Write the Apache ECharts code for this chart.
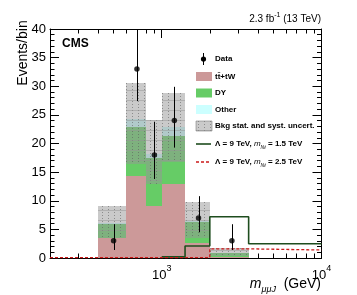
<!DOCTYPE html>
<html><head><meta charset="utf-8">
<script src="https://cdn.jsdelivr.net/npm/echarts@6/dist/echarts.min.js"></script>
<style>html,body{margin:0;padding:0;background:#fff}#c{width:357px;height:295px}</style>
</head><body><div id="c"></div>
<script>
// ---- data ----
const binEdges = [400, 600, 800, 1000, 1400, 2000, 3500];
const ttbar = [3.45, 14.3, 9.0, 12.9, 2.7, 0.1];
const dy = [2.55, 8.5, 8.4, 8.4, 3.6, 0.8];
const other = [0.2, 1.4, 0.7, 1.5, 0.2, 0.05];
const uncLow = [3.5, 16.5, 12.9, 16.8, 3.5, 0.3];
const uncHigh = [9.1, 30.5, 24.1, 28.8, 9.8, 1.8];
const dataX = [500, 700, 900, 1200, 1700, 2750];
const dataY = [3, 33, 18, 24, 7, 3];
const dataLow = [1.4, 27.4, 13.8, 19.3, 4.5, 1.4];
const dataHigh = [5.9, 40, 23.8, 29.9, 10.8, 5.9];
const sig15Edges = [1000, 1400, 2000, 3500, 10000];
const sig15 = [0.2, 2.1, 7.2, 2.5];
const sig25Edges = [200, 2000, 3500, 10000];
const sig25 = [0.08, 1.6, 1.4];
const xMajorTicks = [1000, 10000];
const xMinorTicks = [300, 400, 500, 600, 700, 800, 900, 2000, 3000, 4000, 5000, 6000, 7000, 8000, 9000];
const xLabels = {1000: '3', 10000: '4'};

const FONT = '"Liberation Sans", Arial, Helvetica, sans-serif';
const cTT = '#cc9999', cDY = '#66cc66', cOT = '#ccffff';
const cBand = 'rgba(150,150,150,0.5)';
const cSig15 = '#1e4d1e', cSig25 = '#cc1a1a';

function stackData(lowerArrs, vals) {
  return vals.map((v, i) => {
    let base = 0;
    lowerArrs.forEach(a => base += a[i]);
    return [binEdges[i], binEdges[i + 1], base, base + v];
  });
}
const ttData = stackData([], ttbar);
const dyData = stackData([ttbar], dy);
const otData = stackData([ttbar, dy], other);
const bandData = uncLow.map((l, i) => [binEdges[i], binEdges[i + 1], l, uncHigh[i]]);
const errData = dataX.map((x, i) => [x, dataLow[i], dataHigh[i]]);
function stepData(edges, vals) {
  const d = vals.map((v, i) => [edges[i], v]);
  d.push([edges[edges.length - 1], vals[vals.length - 1]]);
  return d;
}
function rectFrom(api) {
  const p0 = api.coord([api.value(0), api.value(2)]);
  const p1 = api.coord([api.value(1), api.value(3)]);
  const x0 = Math.round(p0[0]), x1 = Math.round(p1[0]);
  const yb = Math.round(p0[1]), yt = Math.round(p1[1]);
  return {x: x0, y: yt, width: x1 - x0, height: yb - yt};
}
function boxSeries(name, data, color) {
  return {
    name, type: 'custom', xAxisIndex: 0, yAxisIndex: 0, clip: true,
    encode: {x: [0, 1], y: [2, 3]}, data,
    renderItem: (params, api) => ({type: 'rect', shape: rectFrom(api), style: {fill: color}})
  };
}
function hatchGroup(x0, y0, w, h) {
  const ch = [{type: 'rect', shape: {x: x0, y: y0, width: w, height: h}, style: {fill: cBand}}];
  for (let x = Math.ceil(x0 / 6) * 6 + 0.5; x < x0 + w; x += 6) {
    ch.push({type: 'line', shape: {x1: x, y1: y0, x2: x, y2: y0 + h},
             style: {stroke: 'rgba(90,90,90,0.55)', lineWidth: 1, lineDash: [1, 2]}});
  }
  for (let y = Math.ceil(y0 / 10) * 10 + 0.5; y < y0 + h; y += 10) {
    ch.push({type: 'line', shape: {x1: x0, y1: y, x2: x0 + w, y2: y},
             style: {stroke: 'rgba(150,150,150,0.5)', lineWidth: 1}});
  }
  return ch;
}

const chart = echarts.init(document.getElementById('c'), null, {renderer: 'canvas'});

function xAxisDef(pos, ticks, len, showLine, showLabel) {
  return {
    type: 'log', logBase: 10, min: 200, max: 10000, position: pos,
    axisLine: {show: showLine, onZero: false, lineStyle: {color: '#000', width: 1}},
    axisTick: {show: true, inside: true, length: len, customValues: ticks, lineStyle: {color: '#000'}},
    axisLabel: {show: showLabel, customValues: showLabel ? xMajorTicks : undefined, margin: 6,
      formatter: v => '{n|10}{s|' + (xLabels[Math.round(v)] || '') + '}',
      rich: {n: {fontFamily: FONT, fontSize: 13, color: '#000', lineHeight: 18, verticalAlign: 'bottom'},
             s: {fontFamily: FONT, fontSize: 9, color: '#000', lineHeight: 18, verticalAlign: 'top'}}},
    splitLine: {show: false}, minorTick: {show: false}
  };
}
function yAxisDef(pos, showLabel) {
  return {
    type: 'value', min: 0, max: 40, interval: 5, position: pos,
    axisLine: {show: true, onZero: false, lineStyle: {color: '#000', width: 1}},
    axisTick: {show: true, inside: true, length: 9, lineStyle: {color: '#000'}},
    minorTick: {show: true, splitNumber: 5, length: 4.5, lineStyle: {color: '#000'}},
    axisLabel: {show: showLabel, fontFamily: FONT, fontSize: 13, color: '#000', margin: 4},
    splitLine: {show: false}
  };
}

const option = {
  animation: false,
  backgroundColor: '#fff',
  grid: {left: 50, top: 29, right: 35.5, bottom: 37, containLabel: false},
  xAxis: [
    xAxisDef('bottom', xMajorTicks, 9, true, true),
    xAxisDef('bottom', xMinorTicks, 4.5, false, false),
    xAxisDef('top', xMajorTicks, 9, true, false),
    xAxisDef('top', xMinorTicks, 4.5, false, false)
  ],
  yAxis: [yAxisDef('left', true), yAxisDef('right', false)],
  series: [
    boxSeries('tt+tW', ttData, cTT),
    boxSeries('DY', dyData, cDY),
    boxSeries('Other', otData, cOT),
    {
      name: 'Bkg stat. and syst. uncert.', type: 'custom', xAxisIndex: 0, yAxisIndex: 0, clip: true,
      encode: {x: [0, 1], y: [2, 3]}, data: bandData,
      renderItem: (params, api) => {
        const r = rectFrom(api);
        return {type: 'group', children: hatchGroup(r.x, r.y, r.width, r.height)};
      }
    },
    {name: 'sig15', type: 'line', step: 'end', data: stepData(sig15Edges, sig15), symbol: 'none',
     lineStyle: {color: cSig15, width: 1.6}, clip: true, z: 5},
    {name: 'sig25', type: 'line', step: 'end', data: stepData(sig25Edges, sig25), symbol: 'none',
     lineStyle: {color: cSig25, width: 1.3, type: [3, 2]}, clip: true, z: 5},
    {
      name: 'Data err', type: 'custom', clip: true, z: 6,
      encode: {x: 0, y: [1, 2]}, data: errData,
      renderItem: (params, api) => {
        const a = api.coord([api.value(0), api.value(1)]);
        const b = api.coord([api.value(0), api.value(2)]);
        const x = Math.round(a[0]) + 0.5;
        return {type: 'line', shape: {x1: x, y1: a[1], x2: x, y2: b[1]}, style: {stroke: '#000', lineWidth: 1}};
      }
    },
    {name: 'Data', type: 'scatter', data: dataX.map((x, i) => [x, dataY[i]]), symbol: 'circle',
     symbolSize: 5.5, itemStyle: {color: '#000'}, z: 7}
  ],
  graphic: [
    {type: 'text', x: 321, y: 18, style: {text: '{a|2.3 fb}{s|-1}{a| (13 TeV)}', align: 'right', verticalAlign: 'middle',
      rich: {a: {fontFamily: FONT, fontSize: 10, fill: '#000', lineHeight: 13, verticalAlign: 'bottom'},
             s: {fontFamily: FONT, fontSize: 7, fill: '#000', lineHeight: 13, verticalAlign: 'top'}}}},
    {type: 'text', x: 62, y: 43.5, style: {text: 'CMS', fontFamily: FONT, fontWeight: 'bold', fontSize: 12, fill: '#000', verticalAlign: 'middle'}},
    {type: 'text', x: 23, y: 53, rotation: Math.PI / 2,
     style: {text: 'Events/bin', fontFamily: FONT, fontSize: 14, fill: '#000', align: 'center', verticalAlign: 'middle'}},
    {type: 'text', x: 321, y: 284, style: {text: '{m|m}{s|μμJ}{a|  (GeV)}', align: 'right', verticalAlign: 'middle',
      rich: {m: {fontFamily: FONT, fontStyle: 'italic', fontSize: 14, fill: '#000', lineHeight: 20, verticalAlign: 'middle'},
             s: {fontFamily: FONT, fontStyle: 'italic', fontSize: 9, fill: '#000', lineHeight: 20, verticalAlign: 'bottom'},
             a: {fontFamily: FONT, fontSize: 14, fill: '#000', lineHeight: 20, verticalAlign: 'middle'}}}},
    // legend
    {type: 'line', shape: {x1: 203.5, y1: 53, x2: 203.5, y2: 65}, style: {stroke: '#000', lineWidth: 1}},
    {type: 'circle', shape: {cx: 203.5, cy: 59, r: 2.6}, style: {fill: '#000'}},
    {type: 'rect', shape: {x: 196, y: 72, width: 16, height: 9}, style: {fill: cTT}},
    {type: 'rect', shape: {x: 196, y: 88.5, width: 16, height: 9}, style: {fill: cDY}},
    {type: 'rect', shape: {x: 196, y: 105, width: 16, height: 9}, style: {fill: cOT}},
    {type: 'group', children: hatchGroup(196, 121, 16, 10).concat([
      {type: 'rect', shape: {x: 196, y: 121, width: 16, height: 10}, style: {fill: 'none', stroke: 'rgba(120,120,120,0.7)', lineWidth: 0.8}}])},
    {type: 'line', shape: {x1: 196, y1: 144, x2: 211, y2: 144}, style: {stroke: cSig15, lineWidth: 1.6}},
    {type: 'line', shape: {x1: 196, y1: 162, x2: 211, y2: 162}, style: {stroke: cSig25, lineWidth: 1.3, lineDash: [3, 2]}},
    ...[['Data', 59], ['tt\u0304+tW', 76.5], ['DY', 93], ['Other', 109.5], ['Bkg stat. and syst. uncert.', 126]].map(([t, y]) => ({
      type: 'text', x: 215, y, style: {text: t, fontFamily: FONT, fontWeight: 'bold', fontSize: 8, fill: '#000', verticalAlign: 'middle'}})),
    ...[['1.5', 144], ['2.5', 162]].map(([m, y]) => ({
      type: 'text', x: 215, y, style: {text: '{a|Λ = 9 TeV, }{m|m}{s|Nℓ}{a| = ' + m + ' TeV}', verticalAlign: 'middle',
        rich: {a: {fontFamily: FONT, fontWeight: 'bold', fontSize: 8, fill: '#000', lineHeight: 12, verticalAlign: 'middle'},
               m: {fontFamily: FONT, fontStyle: 'italic', fontSize: 8, fill: '#000', lineHeight: 12, verticalAlign: 'middle'},
               s: {fontFamily: FONT, fontStyle: 'italic', fontSize: 5, fill: '#000', lineHeight: 12, verticalAlign: 'bottom'}}}}))
  ]
};
chart.setOption(option);
</script></body></html>
